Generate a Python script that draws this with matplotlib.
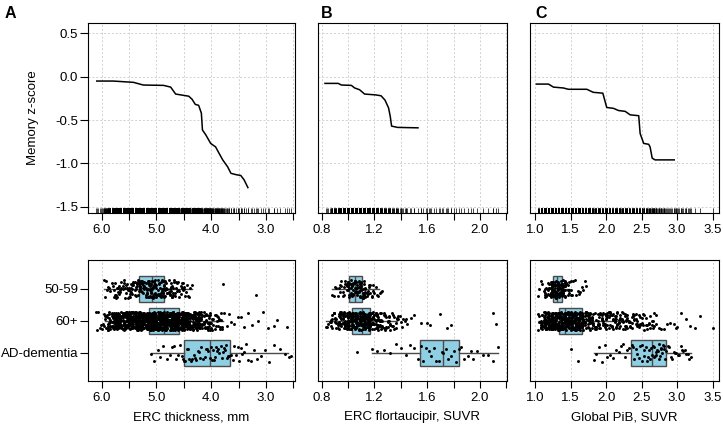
import numpy as np
import matplotlib.pyplot as plt

plt.rcParams['font.family'] = ['Liberation Sans', 'DejaVu Sans']
plt.rcParams['font.size'] = 9.5
plt.rcParams['axes.unicode_minus'] = False

groups = ['50-59', '60+', 'AD-dementia']

# --- top row: smoothed memory z-score curves ---
erc_curve_x = [6.09, 5.79, 5.42, 5.24, 4.87, 4.74, 4.65, 4.41, 4.35, 4.29, 4.23, 4.18,
               4.16, 4.10, 4.01, 3.92, 3.86, 3.79, 3.70, 3.64, 3.55, 3.46, 3.40, 3.33]
erc_curve_z = [-0.05, -0.05, -0.065, -0.096, -0.10, -0.12, -0.20, -0.225, -0.26, -0.32, -0.33, -0.42,
               -0.615, -0.67, -0.77, -0.81, -0.88, -0.96, -1.04, -1.115, -1.13, -1.14, -1.19, -1.28]
tau_curve_x = [0.825, 0.925, 0.95, 1.025, 1.05, 1.087, 1.125, 1.21, 1.25, 1.28, 1.307, 1.32, 1.33, 1.375, 1.53]
tau_curve_z = [-0.077, -0.077, -0.096, -0.10, -0.13, -0.15, -0.20, -0.21, -0.22, -0.27, -0.36, -0.46, -0.57, -0.585, -0.59]
pib_curve_x = [1.02, 1.19, 1.26, 1.40, 1.47, 1.73, 1.82, 1.955, 2.01, 2.105, 2.175, 2.27, 2.34, 2.46,
               2.48, 2.53, 2.60, 2.62, 2.65, 2.69, 2.96]
pib_curve_z = [-0.085, -0.085, -0.12, -0.13, -0.145, -0.145, -0.18, -0.19, -0.355, -0.365, -0.39, -0.40, -0.44, -0.45,
               -0.655, -0.77, -0.78, -0.81, -0.94, -0.96, -0.96]

# --- bottom row: box statistics per group (lower whisker, q1, median, q3, upper whisker) ---
erc_lo = [5.95, 5.94, 5.10]
erc_q1 = [5.31, 5.13, 4.50]
erc_med = [5.08, 4.87, 4.02]
erc_q3 = [4.87, 4.59, 3.66]
erc_hi = [4.35, 3.78, 2.59]

tau_lo = [0.875, 0.83, 1.18]
tau_q1 = [1.007, 1.03, 1.545]
tau_med = [1.055, 1.105, 1.717]
tau_q3 = [1.105, 1.167, 1.843]
tau_hi = [1.237, 1.37, 2.14]

pib_lo = [1.15, 1.05, 1.83]
pib_q1 = [1.26, 1.334, 2.354]
pib_med = [1.31, 1.42, 2.65]
pib_q3 = [1.376, 1.66, 2.84]
pib_hi = [1.48, 2.15, 3.19]

# --- individual values (value, how many subjects at that value) ---
erc_5059_x = [5.96, 5.94, 5.92, 5.90, 5.88, 5.86, 5.84, 5.82, 5.80,
              5.78, 5.76, 5.74, 5.72, 5.70, 5.68, 5.66, 5.64, 5.62, 5.60, 5.58, 5.56, 5.54, 5.52, 5.50,
              5.48, 5.46, 5.44, 5.42, 5.40, 5.38, 5.36,
              5.34, 5.32, 5.30, 5.28, 5.26, 5.24, 5.22, 5.20, 5.18, 5.16, 5.14, 5.12, 5.10, 5.08, 5.06,
              5.04, 5.02, 5.00, 4.98, 4.96, 4.94, 4.92, 4.90, 4.88, 4.86,
              4.84, 4.82, 4.80, 4.78, 4.76, 4.74, 4.72, 4.70,
              4.68, 4.66, 4.64, 4.62, 4.60, 4.58, 4.56, 4.54, 4.52, 4.50,
              4.48, 4.46, 4.44, 4.42, 4.40, 4.38, 4.36, 3.78, 3.19]
erc_5059_n = [1, 1, 1, 1, 1, 1, 1, 1, 1,
              2, 2, 2, 2, 2, 2, 2, 2, 2, 2, 2, 2, 2, 2, 2,
              3, 3, 3, 3, 3, 3, 3,
              4, 4, 4, 4, 4, 4, 4, 4, 4, 4, 4, 4, 4, 4, 4,
              4, 4, 4, 4, 4, 4, 4, 4, 4, 4,
              3, 3, 3, 3, 3, 3, 3, 3,
              2, 2, 2, 2, 2, 2, 2, 2, 2, 2,
              1, 1, 1, 1, 1, 1, 1, 1, 1]
erc_60_x = [6.10, 6.08, 6.06, 6.04, 6.02, 6.00, 5.98,
            5.96, 5.94, 5.92, 5.90,
            5.88, 5.86, 5.84, 5.82, 5.80,
            5.78, 5.76, 5.74, 5.72, 5.70, 5.68, 5.66, 5.64, 5.62, 5.60, 5.58, 5.56, 5.54, 5.52, 5.50,
            5.48, 5.46, 5.44, 5.42, 5.40,
            5.38, 5.36, 5.34, 5.32, 5.30, 5.28, 5.26, 5.24, 5.22, 5.20, 5.18, 5.16, 5.14, 5.12, 5.10,
            5.08, 5.06, 5.04, 5.02, 5.00, 4.98, 4.96, 4.94, 4.92, 4.90, 4.88, 4.86, 4.84, 4.82, 4.80,
            4.78, 4.76, 4.74, 4.72, 4.70, 4.68, 4.66, 4.64, 4.62, 4.60, 4.58, 4.56, 4.54, 4.52, 4.50,
            4.48, 4.46, 4.44, 4.42, 4.40, 4.38, 4.36, 4.34, 4.32, 4.30, 4.28, 4.26, 4.24, 4.22, 4.20,
            4.18, 4.16, 4.14, 4.12, 4.10, 4.08, 4.06, 4.04, 4.02,
            4.00, 3.98, 3.96, 3.94, 3.92, 3.90, 3.88, 3.86, 3.84, 3.82, 3.80,
            3.76, 3.72, 3.68, 3.63, 3.58, 3.52, 3.46, 3.40, 3.33, 3.25, 3.15, 3.05, 2.97, 2.86, 2.80, 2.62]
erc_60_n = [1, 1, 1, 1, 1, 1, 1,
            2, 2, 2, 2,
            5, 5, 5, 5, 5,
            10, 10, 10, 10, 10, 10, 10, 10, 10, 10, 10, 10, 10, 10, 10,
            10, 10, 10, 10, 10,
            12, 12, 12, 12, 12, 12, 12, 12, 12, 12, 12, 12, 12, 12, 12,
            12, 12, 12, 12, 12, 12, 12, 12, 12, 12, 12, 12, 12, 12, 12,
            12, 12, 12, 12, 12, 12, 12, 12, 12, 12, 12, 12, 12, 12, 12,
            8, 8, 8, 8, 8, 8, 8, 8, 8, 8, 8, 8, 8, 8, 8,
            4, 4, 4, 4, 4, 4, 4, 4, 4,
            2, 2, 2, 2, 2, 2, 2, 2, 2, 2, 2,
            1, 1, 1, 1, 1, 1, 1, 1, 1, 1, 1, 1, 1, 1, 1, 1]
erc_ad_x = [5.10, 5.05, 4.98, 4.93, 4.88, 4.80, 4.76, 4.72, 4.68, 4.64, 4.60, 4.57, 4.54, 4.51, 4.50,
            4.48, 4.45, 4.43, 4.40, 4.37, 4.35, 4.32, 4.30, 4.27, 4.25, 4.22, 4.20, 4.18, 4.15, 4.12,
            4.10, 4.07, 4.05, 4.03, 4.01, 3.99, 3.97, 3.95, 3.93, 3.91, 3.89, 3.87, 3.85, 3.83, 3.81,
            3.79, 3.77, 3.75, 3.73, 3.71, 3.69, 3.67, 3.64, 3.61, 3.58, 3.55, 3.52, 3.49, 3.46, 3.43,
            3.40, 3.36, 3.32, 3.28, 3.22, 3.16, 3.10, 3.02, 2.95, 2.85, 2.75, 2.65, 2.58, 2.55]

tau_5059_x = [0.88, 0.89, 0.90, 0.91, 0.92, 0.93,
              0.94, 0.95, 0.96, 0.97, 0.98,
              0.99, 1.00, 1.01, 1.02, 1.03, 1.04, 1.05, 1.06, 1.07, 1.08, 1.09, 1.10, 1.11, 1.12, 1.13,
              1.14, 1.15, 1.16, 1.17, 1.18, 1.19,
              1.20, 1.21, 1.22, 1.23, 1.24, 1.25, 1.26]
tau_5059_n = [1, 1, 1, 1, 1, 1,
              2, 2, 2, 2, 2,
              5, 5, 5, 5, 5, 5, 5, 5, 5, 5, 5, 5, 5, 5, 5,
              2, 2, 2, 2, 2, 2,
              1, 1, 1, 1, 1, 1, 1]
tau_60_x = [0.83, 0.84, 0.85, 0.86,
            0.87, 0.88, 0.89, 0.90, 0.91, 0.92,
            0.93, 0.94, 0.95, 0.96, 0.97, 0.98,
            0.99, 1.00, 1.01, 1.02, 1.03, 1.04, 1.05, 1.06, 1.07, 1.08, 1.09, 1.10, 1.11, 1.12, 1.13,
            1.14, 1.15, 1.16, 1.17,
            1.18, 1.19, 1.20, 1.21, 1.22, 1.23, 1.24,
            1.25, 1.26, 1.27, 1.28, 1.29, 1.30, 1.31, 1.32,
            1.33, 1.34, 1.35, 1.36, 1.37, 1.38,
            1.39, 1.40, 1.41, 1.42, 1.43, 1.44, 1.45,
            1.48, 1.50, 1.55, 1.60, 1.62, 1.70, 1.75, 1.78, 2.10, 2.12]
tau_60_n = [1, 1, 1, 1,
            3, 3, 3, 3, 3, 3,
            6, 6, 6, 6, 6, 6,
            9, 9, 9, 9, 9, 9, 9, 9, 9, 9, 9, 9, 9, 9, 9,
            9, 9, 9, 9,
            6, 6, 6, 6, 6, 6, 6,
            3, 3, 3, 3, 3, 3, 3, 3,
            2, 2, 2, 2, 2, 2,
            1, 1, 1, 1, 1, 1, 1,
            1, 1, 1, 1, 1, 1, 1, 1, 1, 1]
tau_ad_x = [1.07, 1.18, 1.22, 1.27, 1.32, 1.36, 1.40, 1.44, 1.47, 1.50, 1.53, 1.55, 1.57, 1.59, 1.61,
            1.63, 1.65, 1.67, 1.69, 1.71, 1.72, 1.74, 1.76, 1.78, 1.80, 1.82, 1.84, 1.86, 1.88, 1.91,
            1.93, 1.95, 1.98, 2.02, 2.06, 2.10, 2.14]

pib_5059_x = [1.04, 1.06, 1.08, 1.10, 1.12,
              1.14, 1.16, 1.18, 1.20,
              1.22, 1.24, 1.26, 1.28, 1.30, 1.32, 1.34, 1.36, 1.38, 1.40, 1.42,
              1.44, 1.46, 1.48, 1.50,
              1.52, 1.54, 1.56, 1.58, 1.60, 1.62, 1.64, 1.66, 1.68, 1.70, 1.72]
pib_5059_n = [1, 1, 1, 1, 1,
              4, 4, 4, 4,
              9, 9, 9, 9, 9, 9, 9, 9, 9, 9, 9,
              3, 3, 3, 3,
              1, 1, 1, 1, 1, 1, 1, 1, 1, 1, 1]
pib_60_x = [1.04, 1.06,
            1.08, 1.10, 1.12,
            1.14, 1.16, 1.18, 1.20, 1.22, 1.24, 1.26, 1.28, 1.30, 1.32, 1.34, 1.36, 1.38, 1.40,
            1.42, 1.44, 1.46, 1.48, 1.50, 1.52, 1.54, 1.56, 1.58, 1.60, 1.62, 1.64, 1.66,
            1.68, 1.70, 1.72, 1.74, 1.76, 1.78, 1.80,
            1.82, 1.84, 1.86, 1.88, 1.90, 1.92, 1.94, 1.96, 1.98, 2.00, 2.02, 2.04, 2.06, 2.08, 2.10,
            2.12, 2.14, 2.16, 2.18, 2.20, 2.22, 2.24, 2.26, 2.28, 2.30,
            2.32, 2.34, 2.36, 2.38, 2.40, 2.42, 2.44, 2.46, 2.48, 2.50,
            2.52, 2.54, 2.56, 2.58, 2.60, 2.62, 2.64, 2.66, 2.68, 2.70,
            2.74, 2.78, 2.82, 2.86, 2.90, 2.95, 2.98, 3.00, 3.05, 3.12, 3.18, 3.25, 3.32, 3.50]
pib_60_n = [2, 2,
            6, 6, 6,
            12, 12, 12, 12, 12, 12, 12, 12, 12, 12, 12, 12, 12, 12,
            12, 12, 12, 12, 12, 12, 12, 12, 12, 12, 12, 12, 12,
            6, 6, 6, 6, 6, 6, 6,
            4, 4, 4, 4, 4, 4, 4, 4, 4, 4, 4, 4, 4, 4, 4,
            4, 4, 4, 4, 4, 4, 4, 4, 4, 4,
            3, 3, 3, 3, 3, 3, 3, 3, 3, 3,
            2, 2, 2, 2, 2, 2, 2, 2, 2, 2,
            1, 1, 1, 1, 1, 1, 1, 1, 1, 1, 1, 1, 1, 1]
pib_ad_x = [1.50, 1.60, 1.83, 1.86, 1.90, 1.94, 1.98, 2.02, 2.06, 2.10, 2.14, 2.18, 2.21, 2.24, 2.27,
            2.30, 2.33, 2.36, 2.38, 2.40, 2.42, 2.44, 2.46, 2.48, 2.50, 2.51, 2.53, 2.54, 2.56, 2.57,
            2.59, 2.60, 2.62, 2.63, 2.64, 2.66, 2.67, 2.68, 2.69, 2.70, 2.71, 2.72, 2.73, 2.74, 2.75,
            2.76, 2.77, 2.78, 2.79, 2.80, 2.81, 2.82, 2.83, 2.85, 2.87, 2.89, 2.91, 2.93, 2.95, 2.97,
            2.99, 3.01, 3.03, 3.05, 3.07, 3.09, 3.11, 3.13, 3.15, 3.17, 3.19]


def expand(x, n=None):
    x = np.asarray(x, dtype=float)
    return x if n is None else np.repeat(x, n)


# axis setup per panel
panels = [
    dict(letter='A', xlabel='ERC thickness, mm', xlim=(6.25, 2.47),
         ticks=[6.0, 5.5, 5.0, 4.5, 4.0, 3.5, 3.0, 2.5],
         labels=['6.0', '', '5.0', '', '4.0', '', '3.0', ''],
         curve=(erc_curve_x, erc_curve_z),
         pts=[expand(erc_5059_x, erc_5059_n), expand(erc_60_x, erc_60_n), expand(erc_ad_x)],
         box=(erc_lo, erc_q1, erc_med, erc_q3, erc_hi)),
    dict(letter='B', xlabel='ERC flortaucipir, SUVR', xlim=(0.772, 2.205),
         ticks=[0.8, 1.0, 1.2, 1.4, 1.6, 1.8, 2.0, 2.2],
         labels=['0.8', '', '1.2', '', '1.6', '', '2.0', ''],
         curve=(tau_curve_x, tau_curve_z),
         pts=[expand(tau_5059_x, tau_5059_n), expand(tau_60_x, tau_60_n), expand(tau_ad_x)],
         box=(tau_lo, tau_q1, tau_med, tau_q3, tau_hi)),
    dict(letter='C', xlabel='Global PiB, SUVR', xlim=(0.93, 3.59),
         ticks=[1.0, 1.5, 2.0, 2.5, 3.0, 3.5],
         labels=['1.0', '1.5', '2.0', '2.5', '3.0', '3.5'],
         curve=(pib_curve_x, pib_curve_z),
         pts=[expand(pib_5059_x, pib_5059_n), expand(pib_60_x, pib_60_n), expand(pib_ad_x)],
         box=(pib_lo, pib_q1, pib_med, pib_q3, pib_hi)),
]

lefts = [88 / 723, 318 / 723, 530 / 723]
widths = [207 / 723, 189 / 723, 189 / 723]
letter_x = [5 / 723, 321 / 723, 535 / 723]

box_color = '#8fcfe3'
edge_color = '#4a4a4a'
grid_kw = dict(color='#d0d0d0', linestyle=(0, (2, 2)), linewidth=0.7)

fig = plt.figure(figsize=(7.23, 4.30), dpi=100)

for i, p in enumerate(panels):
    # top: curve + rug
    ax = fig.add_axes([lefts[i], 1 - 213 / 430, widths[i], 190 / 430])
    ax.set_axisbelow(True)
    ax.grid(True, **grid_kw)
    ax.plot(p['curve'][0], p['curve'][1], color='black', lw=1.1)
    all_vals = np.concatenate(p['pts'])
    ax.vlines(all_vals, 0, 0.028, transform=ax.get_xaxis_transform(), color='black', lw=0.5)
    ax.set_xlim(*p['xlim'])
    ax.set_ylim(-1.573, 0.62)
    ax.set_xticks(p['ticks'])
    ax.set_xticklabels(p['labels'])
    ax.set_yticks([0.5, 0.0, -0.5, -1.0, -1.5])
    if i == 0:
        ax.set_yticklabels(['0.5', '0.0', '-0.5', '-1.0', '-1.5'])
        ax.set_ylabel('Memory z-score')
        ax.yaxis.set_label_coords(-0.235, 0.5)
        ax.tick_params(axis='y', length=5.5, pad=1.5)
    else:
        ax.tick_params(axis='y', length=0, labelleft=False)
    ax.tick_params(axis='x', length=5, pad=3)
    fig.text(letter_x[i], 0.985, p['letter'], fontsize=11.5, fontweight='bold', va='top')

    # bottom: boxes + jittered points
    ax2 = fig.add_axes([lefts[i], 1 - 381 / 430, widths[i], 121 / 430])
    ax2.set_axisbelow(True)
    ax2.grid(True, axis='x', **grid_kw)
    lo, q1, med, q3, hi = p['box']
    stats = [dict(whislo=lo[k], q1=q1[k], med=med[k], q3=q3[k], whishi=hi[k], fliers=[])
             for k in range(3)]
    ax2.bxp(stats, positions=[1, 2, 3], widths=0.8, orientation='horizontal',
            patch_artist=True, showfliers=False, showcaps=False,
            boxprops=dict(facecolor=box_color, edgecolor=edge_color, linewidth=1.0),
            medianprops=dict(color=edge_color, linewidth=1.0),
            whiskerprops=dict(color=edge_color, linewidth=1.0))
    for k, vals in enumerate(p['pts']):
        idx = np.arange(len(vals))
        u = (np.sin(idx * 12.9898 + k * 4.1414 + i * 1.7) * 43758.5453) % 1.0
        jit = (u - 0.5) * 0.56
        ax2.scatter(vals, k + 1 + jit, s=4.5, color='black', linewidths=0, zorder=3)
    ax2.set_xlim(*p['xlim'])
    ax2.set_ylim(3.875, 0.094)
    ax2.set_xticks(p['ticks'])
    ax2.set_xticklabels(p['labels'])
    ax2.set_yticks([1, 2, 3])
    if i == 0:
        ax2.set_yticklabels(groups)
        ax2.tick_params(axis='y', length=5.5, pad=1.5)
    else:
        ax2.tick_params(axis='y', length=0, labelleft=False)
    ax2.tick_params(axis='x', length=5, pad=3)
    ax2.set_xlabel(p['xlabel'], labelpad=5)

fig.savefig('out.png', dpi=100)
